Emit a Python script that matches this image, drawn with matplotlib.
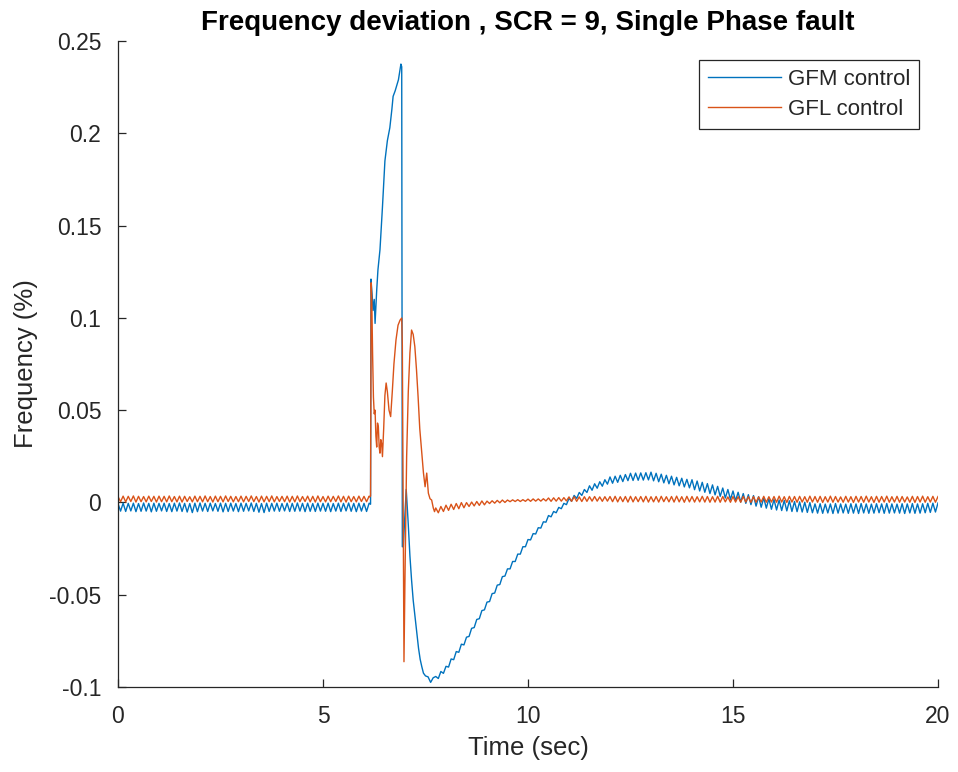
import numpy as np
import matplotlib
matplotlib.use("Agg")
import matplotlib.pyplot as plt
from matplotlib.ticker import FuncFormatter

plt.rcParams['font.family'] = ['Liberation Sans', 'DejaVu Sans']

# ---------------- data ----------------
title = "Frequency deviation , SCR = 9, Single Phase fault"
x_label = "Time (sec)"
y_label = "Frequency (%)"
series_names = ["GFM control", "GFL control"]
x_ticks = [0, 5, 10, 15, 20]
y_ticks = [-0.1, -0.05, 0, 0.05, 0.1, 0.15, 0.2, 0.25]

sample_step = 0.0625          # s, uniform logging step outside the fault window
pre_start = 0.0
post_start = 7.75

# GFM, steady state before the fault
gfm_pre = [
    -0.0006, -0.0047, -0.0004, -0.0049, -0.0005, -0.0046, -0.0004, -0.0050, -0.0006, -0.0048, -0.0003, -0.0047, -0.0005, -0.0051, -0.0004, -0.0048,
    -0.0005, -0.0046, -0.0004, -0.0049, -0.0006, -0.0050, -0.0004, -0.0047, -0.0003, -0.0049, -0.0005, -0.0052, -0.0006, -0.0055, -0.0004, -0.0050,
    -0.0003, -0.0047, -0.0005, -0.0049, -0.0004, -0.0046, -0.0006, -0.0048, -0.0004, -0.0051, -0.0005, -0.0049, -0.0004, -0.0047, -0.0006, -0.0050,
    -0.0004, -0.0048, -0.0005, -0.0046, -0.0003, -0.0049, -0.0005, -0.0053, -0.0006, -0.0055, -0.0004, -0.0049, -0.0005, -0.0047, -0.0004, -0.0048,
    -0.0006, -0.0046, -0.0004, -0.0049, -0.0005, -0.0048, -0.0003, -0.0047, -0.0005, -0.0050, -0.0004, -0.0048, -0.0006, -0.0049, -0.0004, -0.0047,
    -0.0005, -0.0048, -0.0004, -0.0050, -0.0006, -0.0047, -0.0004, -0.0049, -0.0005, -0.0046, -0.0003, -0.0048, -0.0005, -0.0050, -0.0004, -0.0047,
    -0.0005, -0.0049, -0.0004,
]

# GFL, steady state before the fault
gfl_pre = [
    0.0032, 0.0004, 0.0034, 0.0003, 0.0033, 0.0005, 0.0035, 0.0002, 0.0033, 0.0004, 0.0032, 0.0003, 0.0034, 0.0005, 0.0033, 0.0002,
    0.0034, 0.0004, 0.0033, 0.0003, 0.0035, 0.0004, 0.0032, 0.0003, 0.0034, 0.0002, 0.0033, 0.0005, 0.0031, 0.0003, 0.0034, 0.0004,
    0.0033, 0.0003, 0.0035, 0.0004, 0.0032, 0.0002, 0.0034, 0.0004, 0.0033, 0.0003, 0.0035, 0.0005, 0.0033, 0.0003, 0.0032, 0.0004,
    0.0034, 0.0003, 0.0033, 0.0005, 0.0035, 0.0004, 0.0032, 0.0002, 0.0034, 0.0003, 0.0033, 0.0004, 0.0035, 0.0003, 0.0032, 0.0005,
    0.0033, 0.0004, 0.0034, 0.0002, 0.0033, 0.0003, 0.0035, 0.0004, 0.0032, 0.0005, 0.0034, 0.0003, 0.0033, 0.0002, 0.0035, 0.0004,
    0.0032, 0.0003, 0.0034, 0.0004, 0.0033, 0.0005, 0.0035, 0.0003, 0.0033, 0.0002, 0.0034, 0.0004, 0.0032, 0.0003, 0.0034, 0.0005,
    0.0033, 0.0004, 0.0034,
]

# GFM, fault window (irregular time stamps)
gfm_fault_t = [6.16, 6.17, 6.20, 6.22, 6.25, 6.27, 6.31, 6.34, 6.39, 6.45, 6.51, 6.57, 6.63, 6.68,
               6.71, 6.76, 6.80, 6.84, 6.90, 6.92, 6.935, 6.96, 6.99, 7.03, 7.08, 7.12, 7.16, 7.20,
               7.25, 7.29, 7.33, 7.37, 7.41, 7.45, 7.50, 7.5625, 7.625, 7.6875]
gfm_fault = [-0.0010, 0.1210, 0.1120, 0.1040, 0.1100, 0.0970, 0.1150, 0.1260, 0.1370, 0.1600, 0.1850, 0.1960, 0.2030, 0.2130,
             0.2200, 0.2230, 0.2260, 0.2290, 0.2375, 0.2360, -0.0240, -0.0240, -0.0100, 0.0070, -0.0120, -0.0290, -0.0420, -0.0530,
             -0.0630, -0.0710, -0.0790, -0.0850, -0.0890, -0.0925, -0.0940, -0.0945, -0.0975, -0.0950]

# GFL, fault window (irregular time stamps)
gfl_fault_t = [6.14, 6.16, 6.175, 6.19, 6.21, 6.23, 6.25, 6.27, 6.29, 6.31, 6.33, 6.35, 6.37, 6.39,
               6.41, 6.43, 6.45, 6.48, 6.51, 6.54, 6.57, 6.61, 6.65, 6.69, 6.73, 6.78, 6.83, 6.88,
               6.92, 6.935, 6.975, 7.00, 7.04, 7.08, 7.12, 7.16, 7.20, 7.24, 7.28, 7.32, 7.36, 7.41,
               7.45, 7.49, 7.53, 7.57, 7.61, 7.65, 7.69, 7.72]
gfl_fault = [0.0030, 0.0035, 0.1190, 0.1100, 0.0800, 0.0570, 0.0480, 0.0500, 0.0360, 0.0300, 0.0430, 0.0410, 0.0300, 0.0267,
             0.0340, 0.0320, 0.0248, 0.0400, 0.0580, 0.0647, 0.0600, 0.0500, 0.0465, 0.0600, 0.0750, 0.0880, 0.0960, 0.0988,
             0.0999, 0.0850, -0.0863, -0.0400, 0.0248, 0.0600, 0.0810, 0.0934, 0.0910, 0.0844, 0.0720, 0.0570, 0.0400, 0.0267,
             0.0160, 0.0085, 0.0159, 0.0050, 0.0020, 0.0013, -0.0030, -0.0050]

# GFM, recovery after the fault
gfm_post = [
    -0.0943, -0.0954, -0.0916, -0.0926,
    -0.0888, -0.0892, -0.0848, -0.0852, -0.0808, -0.0812, -0.0768, -0.0772,
    -0.0730, -0.0726, -0.0682, -0.0678, -0.0634, -0.0630, -0.0586, -0.0582,
    -0.0540, -0.0537, -0.0494, -0.0491, -0.0448, -0.0445, -0.0402, -0.0399,
    -0.0360, -0.0360, -0.0320, -0.0320, -0.0280, -0.0280, -0.0240, -0.0240,
    -0.0201, -0.0203, -0.0169, -0.0171, -0.0137, -0.0139, -0.0105, -0.0107,
    -0.0071, -0.0078, -0.0049, -0.0056, -0.0027, -0.0034, -0.0005, -0.0012,
    0.0022, 0.0006, 0.0038, 0.0022, 0.0054, 0.0038, 0.0070, 0.0054,
    0.0090, 0.0066, 0.0101, 0.0077, 0.0112, 0.0088, 0.0123, 0.0099,
    0.0138, 0.0104, 0.0142, 0.0109, 0.0147, 0.0113, 0.0151, 0.0118,
    0.0158, 0.0119, 0.0159, 0.0120, 0.0160, 0.0121, 0.0161, 0.0122,
    0.0164, 0.0117, 0.0158, 0.0112, 0.0153, 0.0106, 0.0147, 0.0101,
    0.0142, 0.0095, 0.0136, 0.0090, 0.0131, 0.0084, 0.0125, 0.0079,
    0.0123, 0.0069, 0.0116, 0.0062, 0.0109, 0.0055, 0.0102, 0.0048,
    0.0095, 0.0041, 0.0087, 0.0033, 0.0078, 0.0024, 0.0070, 0.0016,
    0.0062, 0.0009, 0.0055, 0.0002, 0.0048, -0.0005, 0.0042, -0.0012,
    0.0037, -0.0020, 0.0031, -0.0026, 0.0025, -0.0031, 0.0020, -0.0037,
    0.0016, -0.0041, 0.0013, -0.0044, 0.0011, -0.0046, 0.0009, -0.0049,
    0.0005, -0.0050, 0.0003, -0.0052, 0.0001, -0.0054, -0.0001, -0.0056,
    -0.0008, -0.0058, -0.0007, -0.0059, -0.0009, -0.0057, -0.0008, -0.0060, -0.0006, -0.0058, -0.0008, -0.0057, -0.0009, -0.0059, -0.0007, -0.0058,
    -0.0008, -0.0060, -0.0006, -0.0057, -0.0008, -0.0059, -0.0009, -0.0058, -0.0007, -0.0056, -0.0008, -0.0059, -0.0006, -0.0058, -0.0008, -0.0057,
    -0.0009, -0.0058, -0.0007, -0.0060, -0.0008, -0.0057, -0.0006, -0.0059, -0.0008, -0.0058, -0.0007, -0.0056, -0.0005, -0.0054, -0.0004, -0.0052,
    -0.0003,
]

# GFL, recovery after the fault
gfl_post = [
    -0.0030, -0.0056, -0.0022, -0.0049,
    -0.0015, -0.0043, -0.0010, -0.0038, -0.0006, -0.0034, -0.0001, -0.0029,
    -0.0001, -0.0022, 0.0002, -0.0019, 0.0005, -0.0016, 0.0008, -0.0013,
    0.0007, -0.0006, 0.0009, -0.0004, 0.0011, -0.0002, 0.0013, 0.0000,
    0.0013, 0.0004, 0.0014, 0.0005, 0.0015, 0.0005, 0.0015, 0.0006,
    0.0018, 0.0006, 0.0019, 0.0007, 0.0019, 0.0007, 0.0020, 0.0008,
    0.0024, 0.0006, 0.0025, 0.0007, 0.0026, 0.0007, 0.0026, 0.0008,
    0.0030, 0.0006, 0.0031, 0.0006, 0.0030, 0.0005, 0.0031, 0.0006,
    0.0031, 0.0007, 0.0032, 0.0007, 0.0030, 0.0006, 0.0031, 0.0007,
    0.0032, 0.0004, 0.0033, 0.0003, 0.0031, 0.0004, 0.0032, 0.0002,
    0.0033, 0.0003, 0.0031, 0.0004, 0.0032, 0.0003, 0.0033, 0.0002,
    0.0031, 0.0003, 0.0032, 0.0002, 0.0033, 0.0004, 0.0031, 0.0003,
    0.0032, 0.0002, 0.0034, 0.0003, 0.0031, 0.0001, 0.0033, 0.0003,
    0.0032, 0.0002, 0.0031, 0.0003, 0.0033, 0.0002, 0.0032, 0.0001,
    0.0031, 0.0002, 0.0033, 0.0001, 0.0032, 0.0003, 0.0030, 0.0001,
    0.0032, 0.0002, 0.0031, 0.0001, 0.0033, 0.0002, 0.0031, 0.0000,
    0.0032, 0.0001, 0.0030, 0.0002, 0.0033, 0.0001, 0.0031, 0.0002,
    0.0032, 0.0001, 0.0034, 0.0002, 0.0031, 0.0000, 0.0033, 0.0002,
    0.0032, 0.0001, 0.0033, 0.0002, 0.0031, 0.0001, 0.0034, 0.0002,
    0.0032, 0.0001, 0.0033, 0.0000, 0.0031, 0.0002, 0.0034, 0.0001, 0.0032, 0.0002, 0.0030, 0.0001, 0.0033, 0.0002, 0.0031, 0.0000,
    0.0033, 0.0002, 0.0032, 0.0001, 0.0034, 0.0002, 0.0031, 0.0000, 0.0033, 0.0001, 0.0032, 0.0002, 0.0034, 0.0001, 0.0031, 0.0002,
    0.0033, 0.0001, 0.0032, 0.0002, 0.0030, 0.0001, 0.0033, 0.0000, 0.0032, 0.0002, 0.0034, 0.0001, 0.0031, 0.0002, 0.0033, 0.0001,
    0.0032,
]

# ---------------- assemble time series ----------------
def assemble(pre, fault_t, fault, post):
    t_pre = pre_start + np.arange(len(pre)) * sample_step
    t_post = post_start + np.arange(len(post)) * sample_step
    t = np.concatenate([t_pre, np.asarray(fault_t), t_post])
    y = np.concatenate([np.asarray(pre), np.asarray(fault), np.asarray(post)])
    return t, y

t_gfm, f_gfm = assemble(gfm_pre, gfm_fault_t, gfm_fault, gfm_post)
t_gfl, f_gfl = assemble(gfl_pre, gfl_fault_t, gfl_fault, gfl_post)

# ---------------- figure ----------------
axis_color = "#262626"
fig = plt.figure(figsize=(9.58, 7.72), dpi=100)
ax = fig.add_axes([118 / 958, 85 / 772, 820 / 958, 646 / 772])

ax.plot(t_gfm, f_gfm, color="#0072BD", lw=1.0, label=series_names[0])
ax.plot(t_gfl, f_gfl, color="#D95319", lw=1.0, label=series_names[1])

ax.set_xlim(0, 20)
ax.set_ylim(-0.1, 0.25)
ax.set_xticks(x_ticks)
ax.set_yticks(y_ticks)
ax.yaxis.set_major_formatter(FuncFormatter(lambda v, p: f"{v:g}"))

for side in ("top", "right"):
    ax.spines[side].set_visible(False)
for side in ("left", "bottom"):
    ax.spines[side].set_color(axis_color)
    ax.spines[side].set_linewidth(0.9)

ax.tick_params(direction="in", length=6, width=0.9, colors=axis_color,
               labelsize=16.5, labelcolor=axis_color)
ax.tick_params(axis="y", pad=12)
ax.tick_params(axis="x", pad=13)

ax.set_xlabel(x_label, fontsize=18.5, color=axis_color, labelpad=6)
ax.set_ylabel(y_label, fontsize=18.5, color=axis_color, labelpad=8)
ax.set_title(title, fontsize=20, fontweight="bold", color="black", pad=8)

leg = ax.legend(loc="upper right", bbox_to_anchor=(0.977, 0.9706), borderaxespad=0,
                fontsize=16, frameon=True, fancybox=False, framealpha=1, edgecolor=axis_color,
                handlelength=3.3, handletextpad=0.3, borderpad=0.4, labelspacing=0.42)
leg.get_frame().set_linewidth(0.9)
for text in leg.get_texts():
    text.set_color(axis_color)

fig.savefig("out.png", dpi=100)
